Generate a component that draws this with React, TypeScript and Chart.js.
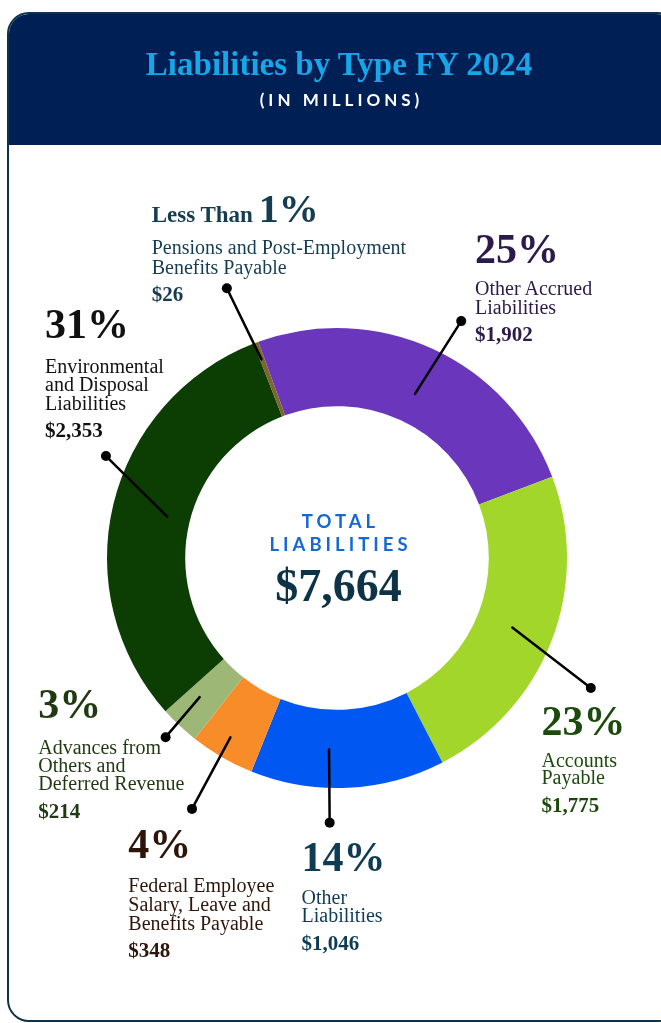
import React, { useEffect, useRef } from "react";
import { Chart, registerables } from "chart.js";

Chart.register(...registerables);

// ---- Data ----
const categories = [
  "Other Accrued Liabilities",
  "Accounts Payable",
  "Other Liabilities",
  "Federal Employee Salary, Leave and Benefits Payable",
  "Advances from Others and Deferred Revenue",
  "Environmental and Disposal Liabilities",
  "Pensions and Post-Employment Benefits Payable",
];
const amounts = [1902, 1775, 1046, 348, 214, 2353, 26];
const percentLabels = ["25%", "23%", "14%", "4%", "3%", "31%", "1%"];
const valueLabels = ["$1,902", "$1,775", "$1,046", "$348", "$214", "$2,353", "$26"];
const descLines = [
  ["Other Accrued", "Liabilities"],
  ["Accounts", "Payable"],
  ["Other", "Liabilities"],
  ["Federal Employee", "Salary, Leave and", "Benefits Payable"],
  ["Advances from", "Others and", "Deferred Revenue"],
  ["Environmental", "and Disposal", "Liabilities"],
  ["Pensions and Post-Employment", "Benefits Payable"],
];
const totalCaption = ["TOTAL", "LIABILITIES"];
const totalValue = "$7,664";
const titleText = "Liabilities by Type FY 2024";
const subtitleText = "(IN MILLIONS)";

// ---- Styles ----
const sliceColors = ["#6a36bc", "#a3d62a", "#0057f2", "#f78c28", "#9db876", "#0c3d02", "#7c672b"];
const labelColors = ["#2b1a4a", "#1c4a0c", "#0f3b55", "#2e150a", "#1f3a10", "#111111", "#163c52"];
// label layout: x, percent baseline, first desc baseline, desc line step, value baseline
const labelLayout = [
  { x: 475, pb: 263, db: 295, step: 18.3, vb: 342 },
  { x: 541.5, pb: 735, db: 766.5, step: 17.5, vb: 812.5 },
  { x: 301.5, pb: 871.5, db: 903.3, step: 18.4, vb: 950.5 },
  { x: 128.3, pb: 858.3, db: 891.7, step: 18.8, vb: 957.3 },
  { x: 38.3, pb: 718.3, db: 753.3, step: 18.4, vb: 818.3 },
  { x: 45, pb: 338.3, db: 372.7, step: 18.3, vb: 437.3 },
  { x: 151.7, pb: 222.7, db: 254, step: 19.3, vb: 301.7 },
];
// leader lines: radii as fraction of outer radius, angle shift (deg) from arc middle
const leaderStart = [0.79, 0.82, 0.833, 0.907, 0.85, 0.76, 0.924];
const leaderEnd = [1.163, 1.24, 1.151, 1.26, 1.078, 1.098, 1.267];
const startShift = [0.75, 0.6, 5.1, 0.7, 1.4, 0.2, -0.2];
const endShift = [3.0, 6.1, 4.3, 0, 0.5, 10.3, -1.6];

const SERIF = '"Liberation Serif", "Times New Roman", serif';
const SANS = 'Lato, "Open Sans", sans-serif';

const leaderPlugin = {
  id: "leaders",
  afterDatasetsDraw(chart: any) {
    const meta = chart.getDatasetMeta(0);
    const ctx = chart.ctx;
    ctx.save();
    ctx.strokeStyle = "#000";
    ctx.fillStyle = "#000";
    ctx.lineWidth = 2.5;
    ctx.lineCap = "round";
    meta.data.forEach((arc: any, i: number) => {
      const p = arc.getProps(["x", "y", "startAngle", "endAngle", "outerRadius"], true);
      const mid = (p.startAngle + p.endAngle) / 2;
      const a0 = mid + (startShift[i] * Math.PI) / 180;
      const a1 = mid + (endShift[i] * Math.PI) / 180;
      const r0 = p.outerRadius * leaderStart[i];
      const r1 = p.outerRadius * leaderEnd[i];
      const x0 = p.x + Math.cos(a0) * r0;
      const y0 = p.y + Math.sin(a0) * r0;
      const x1 = p.x + Math.cos(a1) * r1;
      const y1 = p.y + Math.sin(a1) * r1;
      ctx.beginPath();
      ctx.moveTo(x0, y0);
      ctx.lineTo(x1, y1);
      ctx.stroke();
      ctx.beginPath();
      ctx.arc(x1, y1, 5, 0, Math.PI * 2);
      ctx.fill();
    });
    ctx.restore();
  },
};

function Txt(props: {
  x: number;
  baseline: number;
  size: number;
  bold?: boolean;
  color: string;
  family?: string;
  children: any;
}) {
  const { x, baseline, size, bold, color, family, children } = props;
  return (
    <div
      style={{
        position: "absolute",
        left: x,
        top: baseline - 0.8375 * size,
        fontFamily: family || SERIF,
        fontSize: size,
        lineHeight: `${size}px`,
        fontWeight: bold ? 700 : 400,
        color,
        whiteSpace: "nowrap",
      }}
    >
      {children}
    </div>
  );
}

function CenterTxt(props: {
  cx: number;
  top: number;
  size: number;
  color: string;
  family: string;
  spacing?: number;
  bold?: boolean;
  children: any;
}) {
  const { cx, top, size, color, family, spacing, bold, children } = props;
  return (
    <div
      style={{
        position: "absolute",
        left: cx - 300,
        width: 600,
        top,
        textAlign: "center",
        fontFamily: family,
        fontSize: size,
        lineHeight: `${size}px`,
        fontWeight: bold === false ? 400 : 700,
        color,
        letterSpacing: spacing ? `${spacing}px` : undefined,
        paddingLeft: spacing ? spacing : 0,
        boxSizing: "border-box",
        whiteSpace: "nowrap",
      }}
    >
      {children}
    </div>
  );
}

export default function App() {
  const canvasRef = useRef<HTMLCanvasElement | null>(null);

  useEffect(() => {
    if (!canvasRef.current) return;
    const chart = new Chart(canvasRef.current, {
      type: "doughnut",
      data: {
        labels: categories,
        datasets: [
          {
            data: amounts,
            backgroundColor: sliceColors,
            borderWidth: 0,
          },
        ],
      },
      options: {
        responsive: false,
        animation: false,
        rotation: -20,
        cutout: "66%",
        layout: { padding: { left: 107, right: 94, top: 328, bottom: 235 } },
        plugins: {
          legend: { display: false },
          tooltip: { enabled: false },
        },
      },
      plugins: [leaderPlugin],
    });
    return () => chart.destroy();
  }, []);

  return (
    <div
      style={{
        position: "absolute",
        left: 0,
        top: 0,
        width: 661,
        height: 1023,
        overflow: "hidden",
        background: "#fff",
      }}
    >
      <div
        style={{
          position: "absolute",
          left: 7,
          top: 12,
          width: 672,
          height: 1010,
          borderRadius: 22,
          border: "2.5px solid #0d3349",
          boxSizing: "border-box",
          overflow: "hidden",
          background: "#fff",
        }}
      >
        <div style={{ position: "absolute", left: 0, top: 0, right: 0, height: 131, background: "#001f55" }} />
      </div>
      <canvas
        ref={canvasRef}
        width={661}
        height={1023}
        style={{ position: "absolute", left: 0, top: 0, width: 661, height: 1023 }}
      />
      <CenterTxt cx={339} top={76 - 0.8375 * 33} size={33} color="#17a6e8" family={SERIF}>
        {titleText}
      </CenterTxt>
      <CenterTxt cx={339.5} top={106.5 - 0.887 * 17} size={17} color="#ffffff" family={SANS} spacing={4}>
        {subtitleText}
      </CenterTxt>
      <CenterTxt cx={338.5} top={528.3 - 0.887 * 18.5} size={18.5} color="#1668d6" family={SANS} spacing={4}>
        {totalCaption[0]}
      </CenterTxt>
      <CenterTxt cx={338.5} top={551.7 - 0.887 * 18.5} size={18.5} color="#1668d6" family={SANS} spacing={4}>
        {totalCaption[1]}
      </CenterTxt>
      <CenterTxt cx={338.5} top={601.7 - 0.8375 * 46} size={46} color="#0d3346" family={SERIF}>
        {totalValue}
      </CenterTxt>
      {labelLayout.map((l, i) => (
        <React.Fragment key={i}>
          {i === 6 ? (
            <div
              style={{
                position: "absolute",
                left: l.x,
                top: l.pb - 0.8375 * 40,
                fontFamily: SERIF,
                fontWeight: 700,
                color: labelColors[i],
                whiteSpace: "nowrap",
                lineHeight: "40px",
              }}
            >
              <span style={{ fontSize: 23 }}>Less Than </span>
              <span style={{ fontSize: 40 }}>{percentLabels[i]}</span>
            </div>
          ) : (
            <Txt x={l.x} baseline={l.pb} size={42} bold color={labelColors[i]}>
              {percentLabels[i]}
            </Txt>
          )}
          {descLines[i].map((line, j) => (
            <Txt key={j} x={l.x} baseline={l.db + j * l.step} size={20} color={labelColors[i]}>
              {line}
            </Txt>
          ))}
          <Txt x={l.x} baseline={l.vb} size={21} bold color={labelColors[i]}>
            {valueLabels[i]}
          </Txt>
        </React.Fragment>
      ))}
    </div>
  );
}
